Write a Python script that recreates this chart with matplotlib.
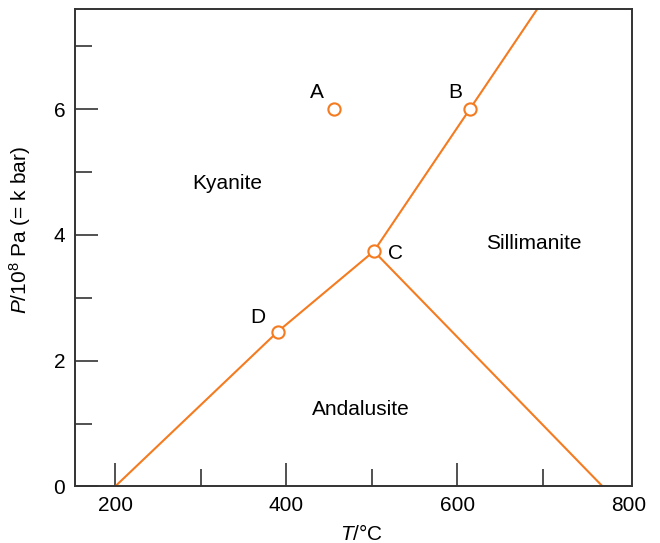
import matplotlib
matplotlib.use('Agg')
import matplotlib.pyplot as plt

plt.rcParams['font.family'] = ['Liberation Sans', 'DejaVu Sans']
plt.rcParams['mathtext.fontset'] = 'custom'
plt.rcParams['mathtext.rm'] = 'Liberation Sans'
plt.rcParams['mathtext.it'] = 'Liberation Sans:italic'

# pontos marcados (A, B, C, D)
pt_names = ['A', 'B', 'C', 'D']
pt_T = [455.7, 614.7, 502.5, 390.0]
pt_P = [6.0, 6.0, 3.74, 2.46]

# linhas de equilibrio
ky_an_T = [200, 390.0, 502.5]
ky_an_P = [0, 2.46, 3.74]
an_si_T = [502.5, 770]
an_si_P = [3.74, 0]
ky_si_T = [502.5, 614.7, 694]
ky_si_P = [3.74, 6.0, 7.6]

# rotulos das fases
phase_names = ['Kyanite', 'Sillimanite', 'Andalusite']
phase_T = [331, 690, 487]
phase_P = [4.81, 3.86, 1.22]

# posicao das letras
lab_T = [436, 598, 528, 367]
lab_P = [6.27, 6.27, 3.70, 2.69]

laranja = '#f47b20'
cinza = '#333333'

fig = plt.figure(figsize=(6.6, 5.43), dpi=100)
ax = fig.add_axes([0.1136, 0.1042, 0.8435, 0.8801])

for T, P in [(ky_an_T, ky_an_P), (an_si_T, an_si_P), (ky_si_T, ky_si_P)]:
    ax.plot(T, P, color=laranja, lw=1.5, zorder=2)

ax.plot(pt_T, pt_P, 'o', ms=8.8, mfc='white', mec=laranja, mew=1.5, zorder=3)

for nome, T, P in zip(pt_names, lab_T, lab_P):
    ax.text(T, P, nome, fontsize=15, ha='center', va='center')

for nome, T, P in zip(phase_names, phase_T, phase_P):
    ax.text(T, P, nome, fontsize=15, ha='center', va='center')

ax.set_xlim(153, 804)
ax.set_ylim(0, 7.6)
ax.set_xticks([200, 400, 600, 800])
ax.set_xticks([300, 500, 700], minor=True)
ax.set_yticks([0, 2, 4, 6])
ax.set_yticks([1, 3, 5, 7], minor=True)

ax.tick_params(which='both', direction='in', colors=cinza, labelcolor='black',
               labelsize=15, width=1.2, pad=7)
ax.tick_params(which='major', length=16.5)
ax.tick_params(which='minor', length=12)

# sem marca no 800 (fica junto da borda)
ax.xaxis.get_major_ticks()[-1].tick1line.set_visible(False)

for s in ax.spines.values():
    s.set_color(cinza)
    s.set_linewidth(1.4)

ax.set_xlabel(r'$\it{T}$/°C', fontsize=15)
ax.set_ylabel(r'$\it{P}$/10$^8$ Pa (= k bar)', fontsize=15)
ax.xaxis.set_label_coords(0.515, -0.078)
ax.yaxis.set_label_coords(-0.076, 0.537)

fig.savefig('out.png', dpi=100)
